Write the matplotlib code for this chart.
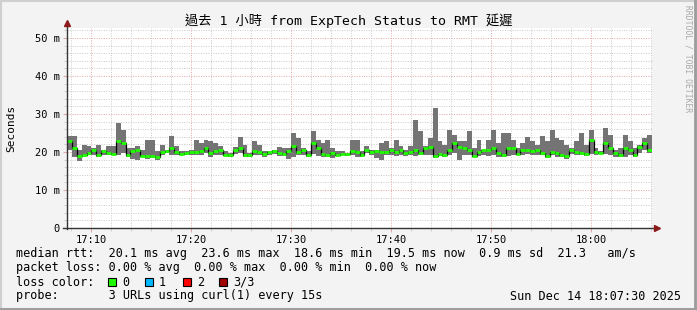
import numpy as np
import matplotlib
matplotlib.use('Agg')
from matplotlib import pyplot as plt
from matplotlib.patches import Rectangle
from matplotlib.lines import Line2D

plt.rcParams['font.family'] = ['DejaVu Sans Mono', 'Noto Sans CJK TC']

# median rtt and smoke band (ms), one sample about every 30 s
median = [22.8, 21.1, 18.9, 19.3, 19.7, 20.4, 19.1, 20.2, 19.7, 19.5,
          22.8, 22.4, 19.1, 20.2, 20.6, 18.9, 18.9, 18.9, 18.6, 20.0,
          20.2, 21.1, 20.0, 19.5, 19.7, 20.0, 20.0, 20.2, 21.1, 19.7,
          20.2, 20.6, 19.3, 19.1, 20.6, 21.1, 19.1, 19.1, 20.2, 20.0,
          19.5, 20.0, 20.2, 19.7, 19.5, 20.2, 21.5, 20.0, 20.4, 19.3,
          22.4, 21.1, 19.5, 19.1, 19.7, 19.3, 19.5, 19.5, 20.2, 20.0,
          19.3, 20.4, 20.0, 20.2, 20.0, 20.0, 20.4, 20.0, 20.4, 19.7,
          20.0, 20.4, 19.7, 21.1, 21.2, 18.9, 19.5, 19.1, 20.4, 22.4,
          21.2, 21.1, 20.4, 18.9, 20.0, 20.4, 20.4, 21.1, 19.7, 19.3,
          21.1, 21.1, 19.5, 20.4, 20.6, 20.2, 20.6, 19.7, 18.9, 20.0,
          19.7, 19.3, 18.9, 20.4, 20.0, 19.7, 19.5, 23.2, 20.0, 19.7,
          22.4, 21.1, 19.7, 19.3, 21.1, 20.6, 19.1, 21.2, 22.4, 20.6]
smoke_hi = [24.1, 24.1, 20.6, 21.8, 21.5, 21.1, 21.9, 20.6, 21.5, 21.5,
            27.6, 25.9, 21.1, 21.1, 21.5, 20.6, 23.2, 23.2, 20.2, 21.9,
            20.6, 24.1, 21.5, 20.2, 20.2, 20.6, 23.2, 22.4, 23.2, 22.8,
            22.4, 21.5, 20.2, 19.7, 21.2, 23.9, 21.9, 19.7, 22.8, 21.9,
            20.2, 20.2, 20.6, 21.2, 21.1, 21.1, 25.0, 23.7, 21.1, 20.2,
            25.6, 23.2, 22.4, 23.2, 21.1, 20.2, 20.2, 19.7, 23.2, 23.2,
            20.2, 21.5, 20.6, 20.6, 22.4, 22.8, 21.1, 23.2, 21.5, 20.6,
            21.5, 28.5, 25.4, 21.5, 23.7, 31.6, 22.8, 21.9, 25.9, 24.6,
            22.8, 22.8, 25.4, 21.1, 23.2, 20.6, 23.2, 25.9, 22.4, 25.0,
            25.0, 23.2, 21.1, 22.4, 23.9, 22.8, 21.9, 24.1, 22.8, 25.9,
            23.7, 23.2, 21.9, 21.1, 22.8, 25.0, 21.9, 25.9, 21.1, 20.2,
            26.3, 24.6, 20.6, 21.1, 24.6, 22.8, 21.1, 21.9, 23.7, 24.6]
smoke_lo = [20.6, 18.6, 17.7, 18.9, 19.1, 19.3, 18.6, 19.3, 19.1, 19.1,
            19.1, 19.7, 18.6, 18.2, 18.0, 18.6, 18.2, 18.4, 18.0, 19.3,
            19.7, 19.3, 19.1, 19.1, 19.3, 19.3, 19.1, 19.1, 19.7, 18.6,
            19.1, 19.3, 18.9, 18.6, 19.5, 19.7, 18.6, 18.6, 19.1, 19.1,
            18.6, 19.3, 19.5, 18.9, 18.9, 18.2, 18.6, 19.1, 19.3, 18.6,
            19.5, 18.9, 18.6, 18.6, 18.4, 18.9, 19.1, 18.9, 19.1, 18.6,
            18.6, 19.7, 19.1, 18.4, 18.0, 19.3, 19.1, 18.9, 19.3, 18.9,
            19.3, 18.9, 19.1, 19.3, 19.1, 18.4, 18.9, 18.6, 19.1, 19.7,
            18.0, 19.1, 19.3, 18.6, 18.9, 19.3, 18.9, 19.1, 18.6, 18.6,
            18.9, 19.3, 19.1, 19.3, 19.5, 19.1, 19.3, 19.1, 18.4, 19.3,
            18.6, 18.6, 18.2, 19.5, 19.3, 19.1, 18.9, 19.5, 19.3, 19.5,
            19.5, 19.1, 18.6, 18.6, 18.6, 19.3, 18.6, 19.7, 20.6, 19.7]

t_start = 7.6      # minutes after 17:00
t_step = 0.4875
t_end = 66.1

tick_min = [10, 20, 30, 40, 50, 60]
tick_lbl = ['17:10', '17:20', '17:30', '17:40', '17:50', '18:00']
y_ticks = [0, 10, 20, 30, 40, 50]
y_lbl = ['0', '10 m', '20 m', '30 m', '40 m', '50 m']

loss_names = ['0', '1', '2', '3/3']
loss_cols = ['#20ff00', '#00b8ff', '#ff0000', '#a00000']

W, H = 697, 310
fig = plt.figure(figsize=(W / 100, H / 100), dpi=100, facecolor='#f3f3f3')

def fx(px):
    return px / W

def fy(py):
    return 1 - py / H

# frame around the image
fig.patches.append(Rectangle((0, 0), 1, 1, transform=fig.transFigure,
                             fill=False, edgecolor='#cfcfcf', lw=3))
fig.add_artist(Line2D([0, 1], [0.003, 0.003], color='#9c9c9c', lw=2))
fig.add_artist(Line2D([0.997, 0.997], [0, 1], color='#9c9c9c', lw=2))

ax = fig.add_axes([fx(67), fy(228), fx(585), (228 - 28) / H])
ax.set_facecolor('white')

n = len(median)
edges = t_start + t_step * np.arange(n + 1)
lo = np.append(smoke_lo, smoke_lo[-1])
hi = np.append(smoke_hi, smoke_hi[-1])
ax.fill_between(edges, lo, hi, step='post', color='#747474', lw=0, zorder=2)
ax.plot(edges, np.append(median, median[-1]), drawstyle='steps-post',
        color='black', lw=0.9, zorder=3)
ax.hlines(median, edges[:-1], edges[1:], color=loss_cols[0], lw=2.0, zorder=4)

ax.set_xlim(t_start, t_end)
ax.set_ylim(0, 52.63)

# grid
for v in range(2, 53, 2):
    major = v % 10 == 0
    ax.axhline(v, color='#e3a6a6' if major else '#c8c8c8', lw=0.7,
               ls=(0, (1, 1.5)), zorder=1)
for m in range(8, 67, 2):
    major = m % 10 == 0
    ax.axvline(m, color='#e3a6a6' if major else '#c8c8c8', lw=0.7,
               ls=(0, (1, 1.5)), zorder=1)

ax.set_xticks(tick_min)
ax.set_xticklabels(tick_lbl, fontsize=7.5)
ax.set_yticks(y_ticks)
ax.set_yticklabels(y_lbl, fontsize=7.5)
ax.set_xticks(range(8, 67, 2), minor=True)
ax.set_yticks(range(2, 53, 2), minor=True)
ax.tick_params(axis='both', which='major', length=3, color='#e3a6a6')
ax.tick_params(axis='both', which='minor', length=2, color='#c8c8c8')
ax.tick_params(axis='y', which='major', pad=2)
ax.tick_params(axis='x', which='major', pad=2)
for s in ['top', 'right', 'left', 'bottom']:
    ax.spines[s].set_visible(False)

# axes with arrow heads
fig.add_artist(Line2D([fx(67), fx(67)], [fy(229), fy(24)], color='#333333', lw=1))
fig.add_artist(Line2D([fx(63), fx(656)], [fy(228), fy(228)], color='#333333', lw=1))
fig.add_artist(Line2D([fx(67)], [fy(23)], marker='^', ms=5, color='#8b1a1a'))
fig.add_artist(Line2D([fx(657)], [fy(228)], marker='>', ms=5, color='#8b1a1a'))

fig.text(0.5, fy(21), '過去 1 小時 from ExpTech Status to RMT 延遲',
         ha='center', va='center', fontsize=9.5)
fig.text(fx(11), fy(128), 'Seconds', rotation=90, ha='center', va='center',
         fontsize=8)
fig.text(fx(688), fy(5), 'RRDTOOL / TOBI OETIKER', rotation=270, ha='center',
         va='top', fontsize=5.8, color='#a8a8a8')

fs = 8.5
fig.text(fx(16), fy(254), 'median rtt:  20.1 ms avg  23.6 ms max  18.6 ms min  '
         '19.5 ms now  0.9 ms sd  21.3   am/s', va='center', fontsize=fs)
fig.text(fx(16), fy(268), 'packet loss: 0.00 % avg  0.00 % max  0.00 % min  '
         '0.00 % now', va='center', fontsize=fs)
fig.text(fx(16), fy(282), 'loss color:', va='center', fontsize=fs)
box_x = [108, 145, 183, 219]
for bx, name, col in zip(box_x, loss_names, loss_cols):
    fig.patches.append(Rectangle((fx(bx), fy(286)), fx(8), 8 / H,
                                 transform=fig.transFigure, facecolor=col,
                                 edgecolor='black', lw=0.8))
    fig.text(fx(bx + 14), fy(282), name, va='center', fontsize=fs)
fig.text(fx(16), fy(296), 'probe:       3 URLs using curl(1) every 15s',
         va='center', fontsize=fs)
fig.text(fx(681), fy(296), 'Sun Dec 14 18:07:30 2025', ha='right',
         va='center', fontsize=fs)

fig.savefig('out.png', dpi=100, facecolor=fig.get_facecolor())
